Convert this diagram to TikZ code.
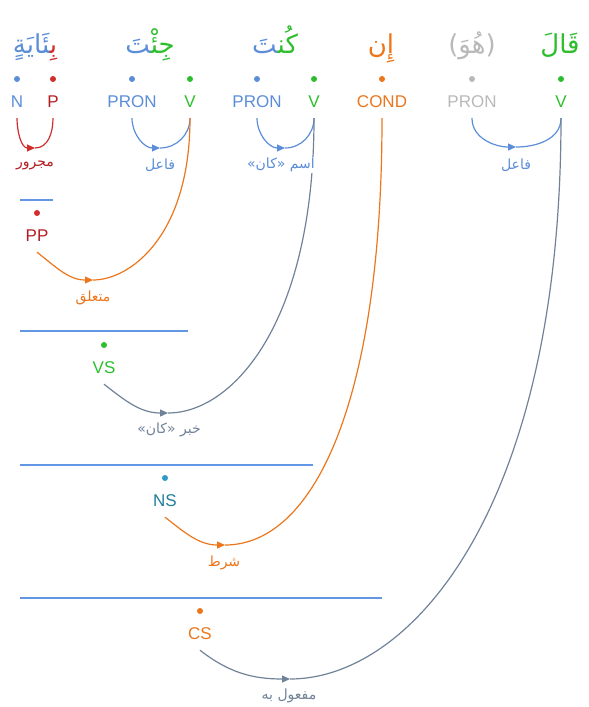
\documentclass[tikz,border=0pt]{standalone}
\usepackage{fontspec}
\setmainfont{Liberation Sans}
\newfontfamily\arabicfont[Script=Arabic]{DejaVu Sans}
\TeXXeTstate=1
\usetikzlibrary{arrows.meta}
\definecolor{qblue}{RGB}{91,141,217}
\definecolor{qbar}{RGB}{100,150,230}
\definecolor{qgreen}{RGB}{45,190,45}
\definecolor{qred}{RGB}{210,45,45}
\definecolor{qdarkred}{RGB}{180,30,35}
\definecolor{qorange}{RGB}{235,118,28}
\definecolor{qgray}{RGB}{185,185,185}
\definecolor{qslate}{RGB}{112,130,152}
\definecolor{qteal}{RGB}{35,125,155}
\definecolor{qtealdot}{RGB}{45,155,195}

\begin{document}
\begin{tikzpicture}[x=1pt,y=-1pt,
  word/.style={font=\arabicfont\fontsize{26}{30}\selectfont, inner sep=0pt, anchor=base},
  dot/.style={circle, inner sep=0pt, minimum size=6pt},
  tag/.style={font=\fontsize{17}{20}\selectfont, text height=12pt, text depth=0pt,
    inner xsep=0pt, inner ysep=11pt},
  rel/.style={font=\arabicfont\fontsize{14}{17}\selectfont, fill=white, inner sep=1pt},
  bar/.style={qbar, line width=1.2pt},
  arc/.style={line width=1.2pt},
  tip/.style={-{Triangle[length=8pt,width=7pt]}},
  dip/.style={out=-90, in=180},
  rise/.style={out=0, in=-90},
  bigdip/.style={out=-38, in=180},
  bigrise/.style={out=0, in=-90, out looseness=0.5, in looseness=1.6}
]
  \useasboundingbox (0,0) rectangle (589,707);

  % words
  \node[word] (w1) at (35,53) {{\color{qblue}^^^^200dئَايَةٍ}{\color{qred}بِ^^^^200d}};
  \node[word] (w2) at (150,53) {{\color{qblue}^^^^200dتَ}{\color{qgreen}جِئْ^^^^200d}};
  \node[word] (w3) at (275,53) {{\color{qblue}^^^^200dتَ}{\color{qgreen}كُن^^^^200d}};
  \node[word, text=qorange] (w4) at (381,53) {إِن};
  \node[word, text=qgray] (w5) at (472,53) {(هُوَ)};
  \node[word, text=qgreen] (w6) at (560,53) {قَالَ};

  % tokens
  \node[dot, fill=qblue]   (dN)  at (17,79) {};
  \node[dot, fill=qred]    (dP)  at (53,79) {};
  \node[dot, fill=qblue]   (dR1) at (132,79) {};
  \node[dot, fill=qgreen]  (dV1) at (190,79) {};
  \node[dot, fill=qblue]   (dR2) at (257,79) {};
  \node[dot, fill=qgreen]  (dV2) at (314,79) {};
  \node[dot, fill=qorange] (dC)  at (382,79) {};
  \node[dot, fill=qgray]   (dR3) at (472,79) {};
  \node[dot, fill=qgreen]  (dV3) at (561,79) {};

  \node[tag, text=qblue]    (tN)  at (17,101) {N};
  \node[tag, text=qdarkred] (tP)  at (53,101) {P};
  \node[tag, text=qblue]    (tR1) at (132,101) {PRON};
  \node[tag, text=qgreen]   (tV1) at (190,101) {V};
  \node[tag, text=qblue]    (tR2) at (257,101) {PRON};
  \node[tag, text=qgreen]   (tV2) at (314,101) {V};
  \node[tag, text=qorange]  (tC)  at (382,101) {COND};
  \node[tag, text=qgray]    (tR3) at (472,101) {PRON};
  \node[tag, text=qgreen]   (tV3) at (561,101) {V};

  % phrases
  \draw[bar] (20,200) -- (53,200);
  \draw[bar] (20,331) -- (188,331);
  \draw[bar] (20,465) -- (313,465);
  \draw[bar] (20,598) -- (382,598);

  \node[dot, fill=qred]     (dPP) at (37,213) {};
  \node[dot, fill=qgreen]   (dVS) at (104,345) {};
  \node[dot, fill=qtealdot] (dNS) at (165,478) {};
  \node[dot, fill=qorange]  (dCS) at (200,611) {};
  \node[tag, text=qdarkred] (tPP) at (37,235) {PP};
  \node[tag, text=qgreen]   (tVS) at (104,367) {VS};
  \node[tag, text=qteal]    (tNS) at (165,500) {NS};
  \node[tag, text=qorange]  (tCS) at (200,633) {CS};

  % arcs
  \coordinate (b1) at (35,148);
  \coordinate (b2) at (160,148);
  \coordinate (b3) at (285,148);
  \coordinate (b4) at (516,147);
  \coordinate (b5) at (93,280);
  \coordinate (b6) at (168,413);
  \coordinate (b7) at (225,545);
  \coordinate (b8) at (290,679);

  \draw[arc, qred, tip] (tN.south) to[dip] (b1);
  \draw[arc, qred] (b1) to[rise] (tP.south);
  \draw[arc, qblue, tip] (tR1.south) to[dip] (b2);
  \draw[arc, qblue] (b2) to[rise] (tV1.south);
  \draw[arc, qblue, tip] (tR2.south) to[dip] (b3);
  \draw[arc, qblue] (b3) to[rise] (tV2.south);
  \draw[arc, qblue, tip] (tR3.south) to[dip] (b4);
  \draw[arc, qblue] (b4) to[rise] (tV3.south);

  \draw[arc, qorange, tip] (tPP.south) to[bigdip] (b5);
  \draw[arc, qorange] (b5) to[bigrise] (tV1.south);
  \draw[arc, qslate, tip] (tVS.south) to[bigdip] (b6);
  \draw[arc, qslate] (b6) to[bigrise] (tV2.south);
  \draw[arc, qorange, tip] (tNS.south) to[bigdip] (b7);
  \draw[arc, qorange] (b7) to[bigrise] (tC.south);
  \draw[arc, qslate, tip] (tCS.south) to[bigdip] (b8);
  \draw[arc, qslate] (b8) to[bigrise] (tV3.south);

  % relations
  \node[rel, text=qdarkred] (l1) at (35,165) {مجرور};
  \node[rel, text=qblue]    (l2) at (160,165) {فاعل};
  \node[rel, text=qblue]    (l3) at (281,165) {\beginR اسم «كان»\endR};
  \node[rel, text=qblue]    (l4) at (516,165) {فاعل};
  \node[rel, text=qorange]  (l5) at (93,298) {متعلق};
  \node[rel, text=qslate]   (l6) at (169,430) {\beginR خبر «كان»\endR};
  \node[rel, text=qorange]  (l7) at (224,563) {شرط};
  \node[rel, text=qslate]   (l8) at (289,696) {\beginR مفعول به\endR};
\end{tikzpicture}
\end{document}
